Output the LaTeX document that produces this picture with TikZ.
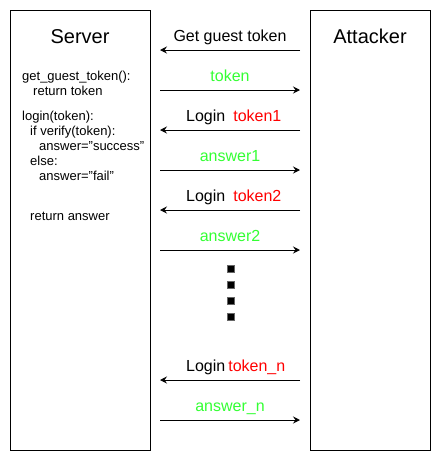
\documentclass[tikz,border=0pt]{standalone}
\usepackage{fontspec}
\setmainfont{Liberation Sans}
\usetikzlibrary{arrows.meta,positioning}
\definecolor{okgreen}{RGB}{51,255,51}
\definecolor{badred}{RGB}{255,0,0}

\begin{document}
\begin{tikzpicture}[
  x=1pt, y=-1pt,
  party/.style={draw=black, line width=1pt, minimum width=140pt,
                minimum height=440pt, inner sep=0pt},
  title/.style={font=\fontsize{20}{24}\selectfont, anchor=base, inner sep=0pt},
  code/.style={font=\fontsize{13}{15}\selectfont, anchor=base west, inner sep=0pt},
  msg/.style={font=\fontsize{16}{19}\selectfont, anchor=base, inner sep=0pt},
  ok/.style={msg, text=okgreen},
  dot/.style={fill=black, draw=black!60, line width=0.4pt,
              minimum size=7.5pt, inner sep=0pt},
  arr/.style={-{Stealth[length=7pt, width=7pt, inset=2.5pt]}, line width=1pt}]

\useasboundingbox (0,0) rectangle (442,461);

% ---------- the two parties ----------
\node[party] (server) at (80,230) {};
\node[party, minimum width=120pt] (attacker) at (370,230) {};
\node[title] (servertitle) at (80,43) {Server};
\node[title] (attackertitle) at (370,43) {Attacker};

% ---------- server code ----------
\node[code] (c1) at (22,80)  {get\_guest\_token():};
\node[code] (c2) at (33,95)  {return token};
\node[code] (c3) at (22,120) {login(token):};
\node[code] (c4) at (30,135) {if verify(token):};
\node[code] (c5) at (39,150) {answer="success"};
\node[code] (c6) at (30,165) {else:};
\node[code] (c7) at (39,180) {answer="fail"};
\node[code] (c8) at (30,220) {return answer};

% ---------- message end points ----------
\foreach \n/\y in {1/50, 2/90, 3/130, 4/170, 5/210, 6/250, 7/380, 8/420} {
  \coordinate (s\n) at (160,\y);
  \coordinate (a\n) at (300,\y);
}

% ---------- messages ----------
\node[msg] (m1) at (230,41) {Get guest token};
\node[ok]  (m2) at (230,81) {token};
\node[msg, anchor=base west] (m3) at (186,121)
  {Login\hspace{8pt}\textcolor{badred}{token1}};
\node[ok]  (m4) at (230,161) {answer1};
\node[msg, anchor=base west] (m5) at (186,201)
  {Login\hspace{8pt}\textcolor{badred}{token2}};
\node[ok]  (m6) at (230,241) {answer2};
\node[msg, anchor=base west] (m7) at (186,371)
  {Login\hspace{3pt}\textcolor{badred}{token\_n}};
\node[ok]  (m8) at (230,411) {answer\_n};

\draw[arr] (a1) -- (s1);
\draw[arr] (s2) -- (a2);
\draw[arr] (a3) -- (s3);
\draw[arr] (s4) -- (a4);
\draw[arr] (a5) -- (s5);
\draw[arr] (s6) -- (a6);
\draw[arr] (a7) -- (s7);
\draw[arr] (s8) -- (a8);

% ---------- ellipsis ----------
\node[dot] (d1) at (230.5,268.5) {};
\node[dot] (d2) at (230.5,284.5) {};
\node[dot] (d3) at (230.5,300.5) {};
\node[dot] (d4) at (230.5,316.5) {};
\end{tikzpicture}
\end{document}
